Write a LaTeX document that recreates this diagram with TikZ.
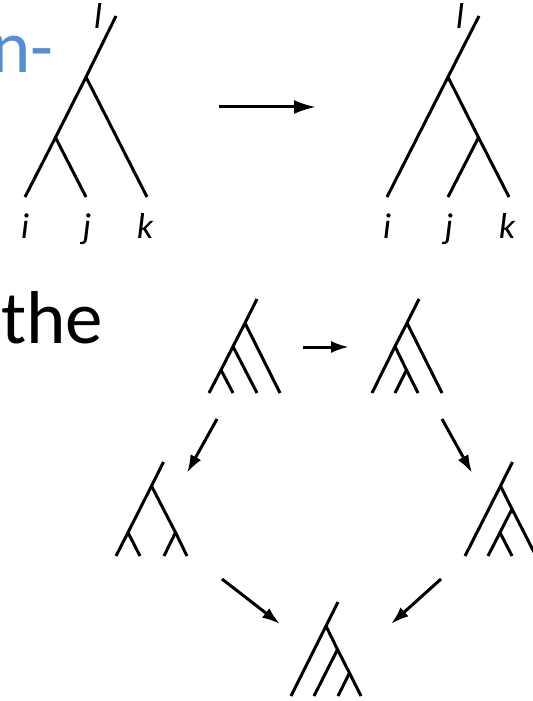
\documentclass[tikz,border=0pt]{standalone}
\usepackage{fontspec}
\setmainfont{Carlito}
\usepackage{xcolor}
\usepackage{tikz}
\usetikzlibrary{arrows.meta}

\definecolor{slideblue}{RGB}{85,142,213}

\begin{document}
\begin{tikzpicture}[
    x=0.5pt, y=-0.5pt,
    branch/.style={line width=1.5pt, line join=miter},
    arrow/.style={line width=1.5pt, -{Latex[length=11pt,width=7pt]}},
    smallarrow/.style={line width=1.5pt, -{Latex[length=9pt,width=6pt]}},
    leaflabel/.style={anchor=base, inner sep=0pt, font=\fontsize{18}{21}\selectfont\itshape},
    slidetext/.style={inner sep=0pt, font=\fontsize{37.5}{45}\selectfont}
]
\useasboundingbox (0,0) rectangle (533,701);

% slide text behind the picture
\node[slidetext, text=slideblue, anchor=base east] (hyph) at (54,73) {n-};
\node[slidetext, anchor=base west] (the) at (1,343) {the};

% big tree ((i,j),k)
\coordinate (iA) at (25,197);
\coordinate (jA) at (86,197);
\coordinate (kA) at (147,197);
\coordinate (ijA) at (55.5,137.5);
\coordinate (rootA) at (86,77);
\coordinate (topA) at (116,16);
\draw[branch] (iA) -- (ijA) -- (rootA) -- (topA);
\draw[branch] (jA) -- (ijA);
\draw[branch] (kA) -- (rootA);

% big tree (i,(j,k))
\coordinate (iB) at (387,197);
\coordinate (jB) at (448,197);
\coordinate (kB) at (509,197);
\coordinate (jkB) at (478.5,137.5);
\coordinate (rootB) at (448,77);
\coordinate (topB) at (479,16);
\draw[branch] (iB) -- (rootB) -- (topB);
\draw[branch] (jB) -- (jkB);
\draw[branch] (kB) -- (jkB) -- (rootB);

% labels
\node[leaflabel] (labiA) at (25,238) {i};
\node[leaflabel] (labjA) at (87,238) {j};
\node[leaflabel] (labkA) at (145,238) {k};
\node[leaflabel] (lablA) at (98,29) {l};
\node[leaflabel] (labiB) at (387,238) {i};
\node[leaflabel] (labjB) at (449,238) {j};
\node[leaflabel] (labkB) at (507,238) {k};
\node[leaflabel] (lablB) at (460,29) {l};

\draw[arrow] (219,107) coordinate (fromA) -- (316,107) coordinate (toB);

% pentagon, tree 1 (((a,b),c),d)
\coordinate (t1a) at (209,393);
\coordinate (t1b) at (233,393);
\coordinate (t1c) at (257,393);
\coordinate (t1d) at (280,393);
\coordinate (t1ab) at (221,370);
\coordinate (t1abc) at (233,346.5);
\coordinate (t1root) at (245,323);
\coordinate (t1top) at (257,299);
\draw[branch] (t1a) -- (t1ab) -- (t1abc) -- (t1root) -- (t1top);
\draw[branch] (t1b) -- (t1ab);
\draw[branch] (t1c) -- (t1abc);
\draw[branch] (t1d) -- (t1root);

% pentagon, tree 2 ((a,(b,c)),d)
\coordinate (t2a) at (372,393);
\coordinate (t2b) at (395,393);
\coordinate (t2c) at (418,393);
\coordinate (t2d) at (442,393);
\coordinate (t2bc) at (406.5,370);
\coordinate (t2abc) at (395,346.5);
\coordinate (t2root) at (407,323);
\coordinate (t2top) at (419,299);
\draw[branch] (t2a) -- (t2abc) -- (t2root) -- (t2top);
\draw[branch] (t2b) -- (t2bc);
\draw[branch] (t2c) -- (t2bc) -- (t2abc);
\draw[branch] (t2d) -- (t2root);

% pentagon, tree 3 ((a,b),(c,d))
\coordinate (t3a) at (116,556);
\coordinate (t3b) at (140,556);
\coordinate (t3c) at (164,556);
\coordinate (t3d) at (187,556);
\coordinate (t3ab) at (128,532.5);
\coordinate (t3cd) at (175.5,532.5);
\coordinate (t3root) at (151.5,486);
\coordinate (t3top) at (163.5,462);
\draw[branch] (t3a) -- (t3ab) -- (t3root) -- (t3top);
\draw[branch] (t3b) -- (t3ab);
\draw[branch] (t3c) -- (t3cd);
\draw[branch] (t3d) -- (t3cd) -- (t3root);

% pentagon, tree 4 (a,((b,c),d))
\coordinate (t4a) at (465,556);
\coordinate (t4b) at (488,556);
\coordinate (t4c) at (512,556);
\coordinate (t4d) at (536,556);
\coordinate (t4bc) at (500,532.5);
\coordinate (t4bcd) at (512,509);
\coordinate (t4root) at (500.5,486);
\coordinate (t4top) at (512.5,462);
\draw[branch] (t4a) -- (t4root) -- (t4top);
\draw[branch] (t4b) -- (t4bc) -- (t4bcd);
\draw[branch] (t4c) -- (t4bc);
\draw[branch] (t4d) -- (t4bcd) -- (t4root);

% pentagon, tree 5 (a,(b,(c,d)))
\coordinate (t5a) at (291,696);
\coordinate (t5b) at (314,696);
\coordinate (t5c) at (338,696);
\coordinate (t5d) at (361,696);
\coordinate (t5cd) at (349.5,673);
\coordinate (t5bcd) at (337.5,649.5);
\coordinate (t5root) at (326,626);
\coordinate (t5top) at (338,602);
\draw[branch] (t5a) -- (t5root) -- (t5top);
\draw[branch] (t5b) -- (t5bcd);
\draw[branch] (t5c) -- (t5cd);
\draw[branch] (t5d) -- (t5cd) -- (t5bcd) -- (t5root);

% rotations
\coordinate (e12s) at (303,347);
\coordinate (e12t) at (349,347);
\coordinate (e13s) at (217,419);
\coordinate (e13t) at (187,473);
\coordinate (e24s) at (442,419);
\coordinate (e24t) at (472,473);
\coordinate (e35s) at (222,579);
\coordinate (e35t) at (280,624);
\coordinate (e45s) at (441,579);
\coordinate (e45t) at (391,624);
\draw[smallarrow] (e12s) -- (e12t);
\draw[smallarrow] (e13s) -- (e13t);
\draw[smallarrow] (e24s) -- (e24t);
\draw[smallarrow] (e35s) -- (e35t);
\draw[smallarrow] (e45s) -- (e45t);
\end{tikzpicture}
\end{document}
